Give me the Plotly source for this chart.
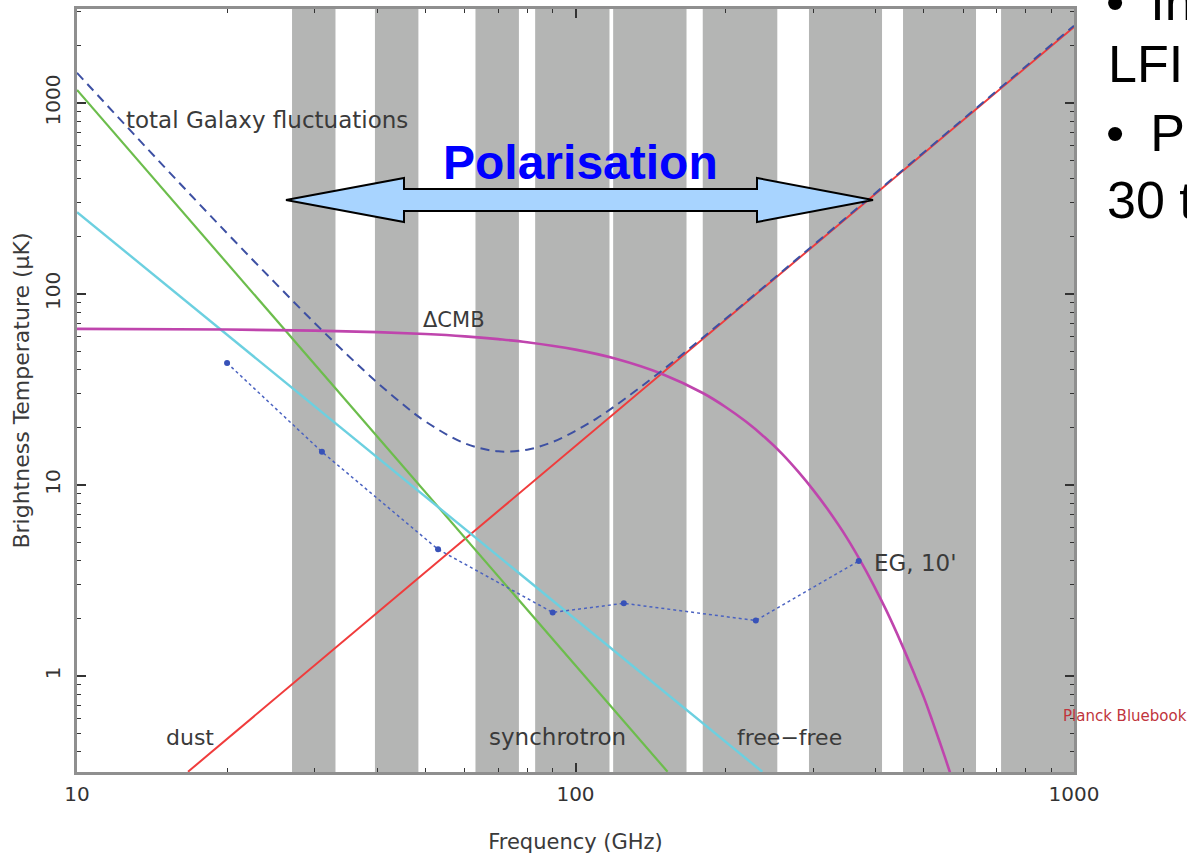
import plotly.graph_objects as go

# ---------------- data ----------------
band_lo = [27, 39.6, 63, 83, 119, 180, 294, 454, 714]
band_hi = [33, 48.4, 77, 117, 167, 254, 412, 636, 1000]

dust_freq = [16.7, 1000]
dust_T = [0.315, 2500]

sync_freq = [10, 153]
sync_T = [1170, 0.315]

ff_freq = [10, 237]
ff_T = [268, 0.315]

cmb_freq = [10, 20, 30, 40, 50, 60, 70, 80, 100, 120, 150, 180, 200, 220, 240,
            260, 280, 300, 320, 350, 380, 400, 420, 450, 480, 500, 520, 550, 580]
cmb_T = [65.6, 65.1, 64.3, 63.1, 61.7, 60.0, 58.0, 55.9, 51.1, 45.9, 37.9, 30.3, 25.6, 21.4, 17.7,
         14.5, 11.7, 9.4, 7.5, 5.3, 3.67, 2.85, 2.21, 1.49, 1.0, 0.77, 0.58, 0.38, 0.25]

total_freq = [10, 15, 20, 25, 30, 35, 40, 45, 50, 60, 70, 80, 90, 100, 110, 120, 150,
              200, 250, 300, 500, 1000]
total_T = [1438, 460, 208, 114, 70.3, 47.5, 34.4, 26.5, 21.5, 16.5, 15.0, 15.3, 16.8, 19.2, 22.2, 25.9, 40.2,
           74.1, 120.5, 180, 552, 2540]

eg_freq = [20, 31, 53, 90, 125, 230, 370]
eg_T = [43.5, 14.9, 4.6, 2.15, 2.4, 1.95, 4.0]

x_ticks = [10, 100, 1000]
x_ticktext = ["10", "100", "1000"]
y_ticks = [1, 10, 100, 1000]
y_ticktext = ["1", "10", "100", "1000"]
x_minor = [20, 30, 40, 50, 60, 70, 80, 90, 200, 300, 400, 500, 600, 700, 800, 900]
y_minor = [0.4, 0.5, 0.6, 0.7, 0.8, 0.9, 2, 3, 4, 5, 6, 7, 8, 9,
           20, 30, 40, 50, 60, 70, 80, 90, 200, 300, 400, 500, 600, 700, 800, 900, 2000, 3000]

# ---------------- layout geometry ----------------
W, H = 1187, 854
L, R, T, B = 77, 113, 9, 82


def px(x):
    return (x - L) / (W - L - R)


def py(y):
    return (H - B - y) / (H - T - B)


fig = go.Figure()

fig.add_trace(go.Scatter(x=dust_freq, y=dust_T, mode="lines",
                         line=dict(color="#f03c3c", width=2), name="dust"))
fig.add_trace(go.Scatter(x=sync_freq, y=sync_T, mode="lines",
                         line=dict(color="#6cbd4c", width=2.2), name="synchrotron"))
fig.add_trace(go.Scatter(x=ff_freq, y=ff_T, mode="lines",
                         line=dict(color="#6cd0e0", width=2.4), name="free-free"))
fig.add_trace(go.Scatter(x=cmb_freq, y=cmb_T, mode="lines", line_shape="spline",
                         line=dict(color="#bf45ad", width=2.6), name="ΔCMB"))
fig.add_trace(go.Scatter(x=total_freq, y=total_T, mode="lines", line_shape="spline",
                         line=dict(color="#3d50a3", width=2, dash="9px,6px"),
                         name="total Galaxy fluctuations"))
fig.add_trace(go.Scatter(x=eg_freq, y=eg_T, mode="lines+markers",
                         line=dict(color="#4a62c0", width=1.5, dash="dot"),
                         marker=dict(color="#3852b8", size=6), name="EG, 10'"))

shapes = []
for lo, hi in zip(band_lo, band_hi):
    shapes.append(dict(type="rect", xref="x", yref="paper", x0=lo, x1=hi, y0=0, y1=1,
                       fillcolor="#b4b5b4", line=dict(width=0), layer="below"))

# double arrow
arrow_px = [(286, 200), (404, 178), (404, 189), (757, 189), (757, 178), (873, 200),
            (757, 222), (757, 211), (404, 211), (404, 222)]
path = "M " + " L ".join(f"{px(a):.5f},{py(b):.5f}" for a, b in arrow_px) + " Z"
shapes.append(dict(type="path", xref="paper", yref="paper", path=path,
                   fillcolor="#a8d4ff", line=dict(color="black", width=2), layer="above"))

lab_font = dict(family="DejaVu Sans", size=22, color="#3a3a3a")
annotations = []


def lab(text, x, y, xanchor="left", font=lab_font):
    annotations.append(dict(text=text, x=px(x), y=py(y), xref="paper", yref="paper",
                            xanchor=xanchor, yanchor="middle", showarrow=False, font=font))


lab("total Galaxy fluctuations", 124, 120, font=dict(family="DejaVu Sans", size=23, color="#3a3a3a"))
lab("ΔCMB", 421, 320, font=dict(family="DejaVu Sans", size=21, color="#3a3a3a"))
lab("EG, 10'", 872, 563, font=dict(family="DejaVu Sans", size=23, color="#3a3a3a"))
lab("dust", 164, 737)
lab("synchrotron", 487, 737, font=dict(family="DejaVu Sans", size=23, color="#3a3a3a"))
lab("free−free", 735, 737)
lab("Planck Bluebook", 1061, 716, font=dict(family="DejaVu Sans", size=15, color="#c0343c"))
lab("<b>Polarisation</b>", 580, 162, xanchor="center",
    font=dict(family="Liberation Sans", size=48, color="#0000ff"))

side_font = dict(family="Liberation Sans", size=52, color="black")
lab("•\u2002In", 1104, 2, font=side_font)
lab("LFI", 1106, 64, font=side_font)
lab("•\u2002Po", 1104, 133, font=side_font)
lab("30 t", 1105, 200, font=side_font)

tick_font = dict(family="DejaVu Sans", size=20, color="#333333")

fig.update_layout(
    width=W, height=H,
    margin=dict(l=L, r=R, t=T, b=B, pad=0),
    paper_bgcolor="white", plot_bgcolor="white",
    showlegend=False,
    shapes=shapes, annotations=annotations,
    xaxis=dict(type="log", range=[1, 3], tickvals=x_ticks, ticktext=x_ticktext,
               ticks="inside", ticklen=9, tickwidth=1.5, tickcolor="#333333",
               showline=True, linecolor="#8f8f8f", linewidth=2.5, mirror="allticks",
               showgrid=False, zeroline=False, tickfont=tick_font, ticklabelstandoff=2,
               automargin=False,
               minor=dict(tickvals=x_minor, ticks="inside", ticklen=4, tickwidth=1,
                          tickcolor="#333333", showgrid=False),
               title=dict(text="Frequency (GHz)", font=dict(family="DejaVu Sans", size=21, color="#3a3a3a"),
                          standoff=30)),
    yaxis=dict(type="log", range=[-0.503, 3.492], tickvals=y_ticks, ticktext=y_ticktext,
               tickangle=-90,
               ticks="inside", ticklen=9, tickwidth=1.5, tickcolor="#333333",
               showline=True, linecolor="#8f8f8f", linewidth=2.5, mirror="allticks",
               showgrid=False, zeroline=False, tickfont=tick_font, ticklabelstandoff=6,
               automargin=False,
               minor=dict(tickvals=y_minor, ticks="inside", ticklen=4, tickwidth=1,
                          tickcolor="#333333", showgrid=False),
               title=dict(text="Brightness Temperature (μK)",
                          font=dict(family="DejaVu Sans", size=22, color="#3a3a3a"),
                          standoff=6)),
)

fig.write_html("out.html")
